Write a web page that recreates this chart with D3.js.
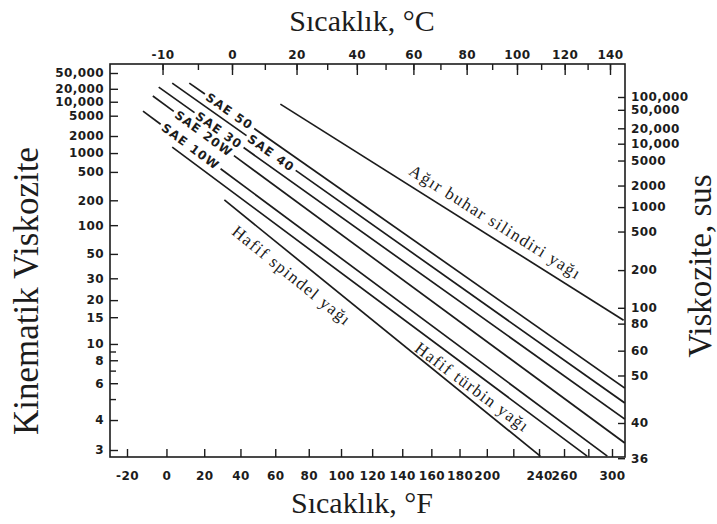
<!DOCTYPE html>
<html>
<head>
<meta charset="utf-8">
<script src="https://cdn.jsdelivr.net/npm/d3@7"></script>
<style>
  body { margin: 0; background: #fff; }
  svg { display: block; }
</style>
</head>
<body>
<svg id="chart" width="717" height="524"></svg>
<script>
// ---- Axis ticks and labels ----
const fahrenheitTicks  = [-20, 0, 20, 40, 60, 80, 100, 120, 140, 160, 180, 200, 220, 240, 260, 280, 300];
const fahrenheitLabels = ["-20", "0", "20", "40", "60", "80", "100", "120", "140", "160", "180", "200", "", "240", "260", "", "300"];
const celsiusTicks      = [-20, -10, 0, 10, 20, 30, 40, 50, 60, 70, 80, 90, 100, 110, 120, 130, 140];
const celsiusLabelTicks = [-20, 0, 20, 40, 60, 80, 100, 120, 140];
const celsiusLabels     = ["-10", "0", "20", "40", "60", "80", "100", "120", "140"];
const kinematicTicks  = [50000, 20000, 10000, 5000, 2000, 1000, 500, 200, 100, 50, 30, 20, 15, 10, 8, 6, 4, 3];
const kinematicLabels = ["50,000", "20,000", "10,000", "5000", "2000", "1000", "500", "200", "100", "50", "30", "20", "15", "10", "8", "6", "4", "3"];
const kinematicMinor  = [9, 7, 5];
const susTicks  = [100000, 50000, 20000, 10000, 5000, 2000, 1000, 500, 200, 100, 80, 60, 50, 40, 36];
const susLabels = ["100,000", "50,000", "20,000", "10,000", "5000", "2000", "1000", "500", "200", "100", "80", "60", "50", "40", "36"];

// ---- Oils: each drawn as a straight line between two (°F, cSt) points ----
const oilNames   = ["Ağır buhar silindiri yağı", "SAE 50", "SAE 40", "SAE 30", "SAE 20W", "SAE 10W", "Hafif türbin yağı", "Hafif spindel yağı"];
const startTempF = [63, 12, 3, -4, -7, -12, 3, 31];
const startVisc  = [8860, 27600, 27600, 22000, 13500, 6250, 1265, 202];
const endTempF   = [310, 311, 311, 311, 311, 296, 279, 241];
const endVisc    = [14.3, 5.67, 4.79, 4.04, 3.20, 2.84, 2.84, 2.84];

// label placement along each line (distance from line start, side offset)
const labelPlacement = [
  { mode: "beside", along: 145, offset: -9 },
  { mode: "inline", along: 22 },
  { mode: "inline", along: 94 },
  { mode: "inline", along: 47 },
  { mode: "inline", along: 29 },
  { mode: "inline", along: 25 },
  { mode: "beside", along: 315, offset: 19 },
  { mode: "beside", along: 26, offset: 22 }
];

// ---- Scales ----
const frame = { left: 110, top: 64, right: 625, bottom: 457 };
const rankine = f => f + 459.67;
const kelvin = c => c + 273.15;
const walther = v => Math.log10(Math.log10(v + 0.7));

// Saybolt Universal Seconds from kinematic viscosity (100 °F)
const sus = v => 4.6324 * v + (1.0 + 0.03264 * v) / (3930.2 + 262.7 * v + 23.97 * v * v + 1.646 * v * v * v) * 1e5;
function cstFromSus(s) {
  let lo = Math.log(0.5), hi = Math.log(1e6);
  for (let i = 0; i < 80; i++) {
    const mid = (lo + hi) / 2;
    if (sus(Math.exp(mid)) < s) lo = mid; else hi = mid;
  }
  return Math.exp((lo + hi) / 2);
}

const x = d3.scaleLog().domain([rankine(-20), rankine(300)]).range([127, 612]);
const xTop = d3.scaleLog().domain([kelvin(0), kelvin(140)]).range([232, 610]);
const y = d3.scaleLinear().domain([walther(3), walther(50000)]).range([450, 73]);
const yRight = d3.scaleLinear()
  .domain([walther(cstFromSus(40)), walther(cstFromSus(100000))])
  .range([423, 97]);

const px = f => x(rankine(f));
const py = v => y(walther(v));

const svg = d3.select("#chart");
const ink = "#1c1c1c";
const tickFont = "'DejaVu Sans', Verdana, sans-serif";
const serif = "'Liberation Serif', 'Times New Roman', serif";

// ---- Frame ----
svg.append("rect")
  .attr("x", frame.left).attr("y", frame.top)
  .attr("width", frame.right - frame.left).attr("height", frame.bottom - frame.top)
  .attr("fill", "none").attr("stroke", ink).attr("stroke-width", 1.6);

function styleAxis(g) {
  g.select(".domain").remove();
  g.selectAll(".tick line").attr("stroke", ink).attr("stroke-width", 1.4);
  g.selectAll(".tick text")
    .attr("fill", ink)
    .style("font-family", tickFont)
    .style("font-weight", "bold")
    .style("font-size", "12px")
    .style("letter-spacing", "0.4px");
}

// bottom (°F)
svg.append("g")
  .attr("transform", `translate(0,${frame.bottom})`)
  .call(d3.axisBottom(x)
    .tickValues(fahrenheitTicks.map(rankine))
    .tickSize(-8).tickPadding(14)
    .tickFormat((d, i) => fahrenheitLabels[i]))
  .call(styleAxis);

// top (°C): short ticks every 10 degrees, long labelled ticks
svg.append("g")
  .attr("transform", `translate(0,${frame.top})`)
  .call(d3.axisTop(xTop)
    .tickValues(celsiusTicks.map(kelvin))
    .tickSize(-6).tickFormat(""))
  .call(styleAxis);
svg.append("g")
  .attr("transform", `translate(0,${frame.top})`)
  .call(d3.axisTop(xTop)
    .tickValues(celsiusLabelTicks.map(kelvin))
    .tickSize(-11).tickPadding(5)
    .tickFormat((d, i) => celsiusLabels[i]))
  .call(styleAxis);

// left (kinematic viscosity, Walther scale)
svg.append("g")
  .attr("transform", `translate(${frame.left},0)`)
  .call(d3.axisLeft(y)
    .tickValues(kinematicMinor.map(walther))
    .tickSize(-6).tickFormat(""))
  .call(styleAxis);
svg.append("g")
  .attr("transform", `translate(${frame.left},0)`)
  .call(d3.axisLeft(y)
    .tickValues(kinematicTicks.map(walther))
    .tickSize(-8).tickPadding(6)
    .tickFormat((d, i) => kinematicLabels[i]))
  .call(styleAxis);

// right (SUS)
svg.append("g")
  .attr("transform", `translate(${frame.right},0)`)
  .call(d3.axisRight(yRight)
    .tickValues(susTicks.map(s => walther(cstFromSus(s))))
    .tickSize(-7).tickPadding(6)
    .tickFormat((d, i) => susLabels[i]))
  .call(styleAxis);

// ---- Titles ----
svg.append("text").attr("x", 362).attr("y", 31).attr("text-anchor", "middle")
  .style("font-family", serif).style("font-size", "30px").attr("fill", ink)
  .text("Sıcaklık, °C");
svg.append("text").attr("x", 362).attr("y", 513).attr("text-anchor", "middle")
  .style("font-family", serif).style("font-size", "30px").attr("fill", ink)
  .text("Sıcaklık, °F");
svg.append("text").attr("transform", "translate(38,291) rotate(-90)").attr("text-anchor", "middle")
  .style("font-family", serif).style("font-size", "35px").attr("fill", ink)
  .text("Kinematik Viskozite");
svg.append("text").attr("transform", "translate(711,266) rotate(-90)").attr("text-anchor", "middle")
  .style("font-family", serif).style("font-size", "33px").attr("fill", ink)
  .text("Viskozite, sus");

// ---- Oil lines ----
svg.append("clipPath").attr("id", "plot-clip")
  .append("rect")
  .attr("x", frame.left).attr("y", frame.top)
  .attr("width", frame.right - frame.left).attr("height", frame.bottom - frame.top);

const plot = svg.append("g").attr("clip-path", "url(#plot-clip)");

oilNames.forEach((name, i) => {
  const x0 = px(startTempF[i]), y0 = py(startVisc[i]);
  const x1 = px(endTempF[i]), y1 = py(endVisc[i]);
  const len = Math.hypot(x1 - x0, y1 - y0);
  const angle = Math.atan2(y1 - y0, x1 - x0) * 180 / Math.PI;
  const place = labelPlacement[i];

  const g = plot.append("g").attr("transform", `translate(${x0},${y0}) rotate(${angle})`);
  const label = g.append("text").text(name).attr("fill", ink);

  let segments = [[0, len]];
  if (place.mode === "inline") {
    label.attr("x", place.along).attr("y", 0).attr("dy", "0.36em")
      .style("font-family", tickFont).style("font-weight", "bold")
      .style("font-size", "12px").style("letter-spacing", "1.2px");
    const w = label.node().getComputedTextLength();
    const pad = 3;
    segments = [[0, place.along - pad], [place.along + w + pad, len]];
  } else {
    label.attr("x", place.along).attr("y", place.offset)
      .style("font-family", serif).style("font-size", "17px")
      .style("letter-spacing", "1.4px");
  }

  segments.forEach(([a, b]) => {
    g.append("line")
      .attr("x1", a).attr("y1", 0).attr("x2", b).attr("y2", 0)
      .attr("stroke", ink).attr("stroke-width", 1.7);
  });
});
</script>
</body>
</html>
